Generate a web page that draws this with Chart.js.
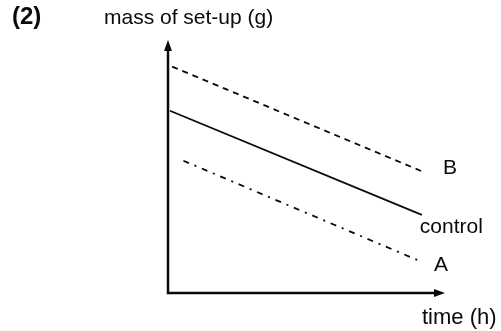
<!doctype html>
<html>
<head>
<meta charset="utf-8" />
<title>mass of set-up</title>
<script src="https://cdn.jsdelivr.net/npm/chart.js@4/dist/chart.umd.min.js"></script>
<style>
  html, body { margin: 0; padding: 0; background: #fff; }
  #wrap { width: 501px; height: 331px; }
</style>
</head>
<body>
<div id="wrap"><canvas id="graph"></canvas></div>
<script>
// values (arbitrary units, 0-100 on both axes)
var seriesNames = ["B", "control", "A"];
var timeB = [1.5, 92.7];
var massB = [90.2, 48.3];
var timeControl = [0.7, 92.3];
var massControl = [72.6, 31.1];
var timeA = [5.6, 91.6];
var massA = [52.7, 12.7];
var xTitle = "time (h)";
var yTitle = "mass of set-up (g)";
var partLabel = "(2)";

function pts(xs, ys) {
  return xs.map(function (x, i) { return { x: x, y: ys[i] }; });
}

var ink = "#0a0a0a";
var font = "'Liberation Sans', Arial, sans-serif";

// axes with arrow heads + the hand-placed labels
var sketchAxes = {
  id: "sketchAxes",
  afterDraw: function (chart) {
    var c = chart.ctx, a = chart.chartArea;
    c.save();
    c.strokeStyle = ink;
    c.fillStyle = ink;
    c.lineWidth = 2.5;
    c.beginPath();
    c.moveTo(a.left, a.top + 4);
    c.lineTo(a.left, a.bottom);
    c.lineTo(a.right - 4, a.bottom);
    c.stroke();
    // arrow heads
    c.beginPath();
    c.moveTo(a.left, a.top - 2);
    c.lineTo(a.left - 4, a.top + 9);
    c.lineTo(a.left + 4, a.top + 9);
    c.closePath();
    c.fill();
    c.beginPath();
    c.moveTo(a.right + 2, a.bottom);
    c.lineTo(a.right - 9, a.bottom - 4);
    c.lineTo(a.right - 9, a.bottom + 4);
    c.closePath();
    c.fill();

    c.textBaseline = "middle";
    c.textAlign = "left";
    c.font = "bold 24px " + font;
    c.fillText(partLabel, 12, 17);
    c.font = "21px " + font;
    c.fillText(yTitle, 104, 18);
    c.font = "22px " + font;
    c.fillText(xTitle, 422, 318);

    // series labels next to line ends
    var xs = chart.scales.x, ys = chart.scales.y;
    var ends = [[timeB, massB], [timeControl, massControl], [timeA, massA]];
    var offs = [[20, -4], [-2, 12], [14, 4]];
    c.font = "21px " + font;
    ends.forEach(function (e, i) {
      var n = e[0].length - 1;
      var px = xs.getPixelForValue(e[0][n]) + offs[i][0];
      var py = ys.getPixelForValue(e[1][n]) + offs[i][1];
      c.fillText(seriesNames[i], px, py);
    });
    c.restore();
  }
};

new Chart(document.getElementById("graph"), {
  type: "scatter",
  data: {
    datasets: [
      { label: seriesNames[0], data: pts(timeB, massB), showLine: true,
        borderColor: ink, borderWidth: 1.8, borderDash: [6, 5], pointRadius: 0 },
      { label: seriesNames[1], data: pts(timeControl, massControl), showLine: true,
        borderColor: ink, borderWidth: 1.8, pointRadius: 0 },
      { label: seriesNames[2], data: pts(timeA, massA), showLine: true,
        borderColor: ink, borderWidth: 1.8, borderDash: [6, 6, 2, 6], pointRadius: 0 }
    ]
  },
  options: {
    responsive: true,
    maintainAspectRatio: false,
    animation: false,
    layout: { padding: { left: 168, right: 58, top: 42, bottom: 38 } },
    plugins: { legend: { display: false }, tooltip: { enabled: false } },
    scales: {
      x: { type: "linear", min: 0, max: 100, display: false },
      y: { type: "linear", min: 0, max: 100, display: false }
    }
  },
  plugins: [sketchAxes]
});
</script>
</body>
</html>
